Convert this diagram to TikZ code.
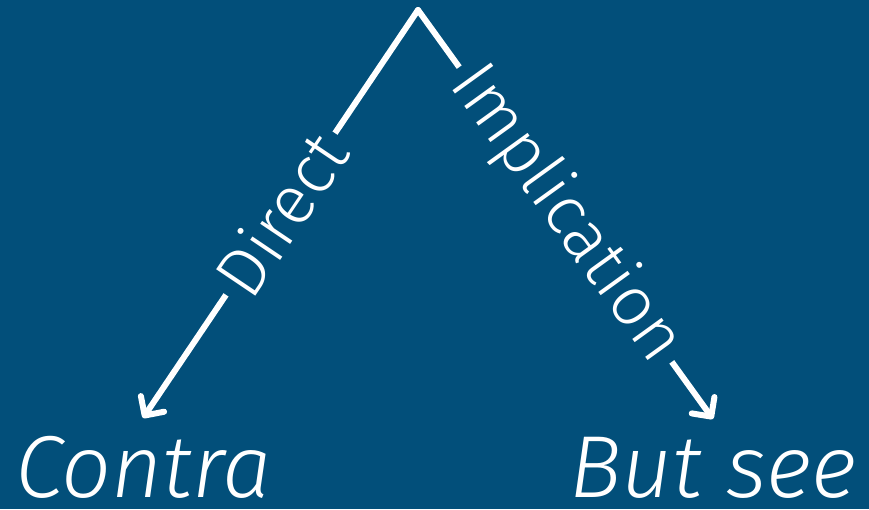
\documentclass[tikz,border=0pt]{standalone}
\usepackage{fontspec}
\setmainfont{Fira Sans}[UprightFont=* Light, ItalicFont=* Light Italic]
\usetikzlibrary{arrows.meta}
\definecolor{bg}{RGB}{2,79,122}
\begin{document}
\begin{tikzpicture}[x=1pt,y=-1pt,
  conn/.style={white, line width=6pt, line cap=round, line join=round,
    -{Straight Barb[round, length=14pt, width=28pt, line width=6pt]}},
  lbl/.style={fill=bg, text=white, sloped, inner xsep=8pt, inner ysep=0pt,
    font=\fontsize{69}{71}\selectfont},
  big/.style={text=white, inner sep=0pt, font=\fontsize{88}{92}\selectfont\itshape}]
\fill[bg] (0,0) rectangle (869,509);
\useasboundingbox (0,0) rectangle (869,509);
\coordinate (apex) at (418,10);
\coordinate (tipL) at (143,418);
\coordinate (tipR) at (713,419);
\node[big, anchor=base west] (contra) at (15,497) {Contra};
\node[big, anchor=base east] (butsee) at (857,497) {But see};
\draw[conn] (apex) -- node[lbl] (direct) {Direct} (tipL);
\draw[conn] (apex) -- node[lbl] (impl) {Implication} (tipR);
\end{tikzpicture}
\end{document}
